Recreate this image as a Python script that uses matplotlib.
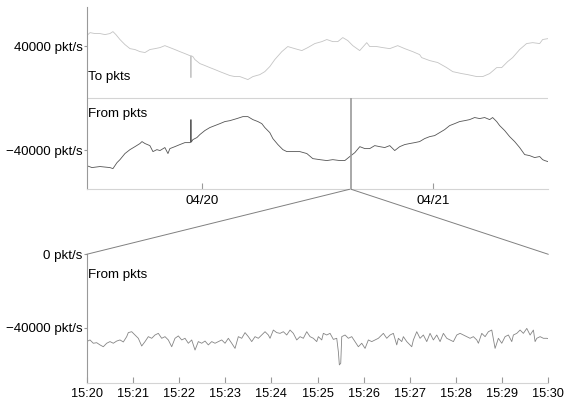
"""
Packet rate overview with a 10 minute zoom window
"""

import matplotlib
matplotlib.use("Agg")
import matplotlib.pyplot as plt
import matplotlib.dates as mdates
from matplotlib.patches import ConnectionPatch
from matplotlib.ticker import FuncFormatter, FixedLocator
from datetime import datetime, timedelta

plt.rcParams['font.family'] = ['Liberation Sans', 'DejaVu Sans']
plt.rcParams['font.size'] = 9.6

# Overview: hours after 04/19 12:00, rates in pkt/s
START = datetime(2009, 4, 19, 12, 0)

to_hours = [0.0, 0.35, 0.86, 1.38, 1.90, 2.42, 2.73, 3.04, 3.46, 3.98, 4.50, 5.02,
            5.54, 6.06, 6.57, 7.10, 7.62, 8.13, 8.65, 9.17, 9.69, 10.21, 10.73,
            10.80, 10.84, 10.88, 11.04, 11.25, 11.77, 12.29, 12.81, 13.33, 13.85,
            14.37, 14.89, 15.41, 15.93, 16.76, 17.28, 18.00, 18.52, 19.04, 19.56,
            20.29, 20.91, 21.64, 22.37, 22.99, 23.72, 24.45, 24.97, 25.59, 26.11,
            26.63, 27.15, 27.67, 28.39, 29.12, 29.43, 30.16, 30.78, 31.51, 32.34,
            33.07, 33.90, 34.62, 34.83, 35.67, 36.50, 37.43, 38.06, 39.00, 39.62,
            40.56, 41.18, 41.90, 42.63, 43.15, 43.77, 44.29, 45.02, 45.74, 46.37,
            47.10, 47.41, 47.96]
to_pkts = [48200, 50500, 49800, 49800, 49000, 49800, 51300, 49000, 45200, 41300,
           38200, 37500, 35900, 35200, 37500, 38200, 39000, 40500, 39000, 37500,
           35900, 34400, 32800, 32800, 15900, 32700, 32100, 29800, 26700, 25200,
           23600, 22100, 20500, 19000, 17500, 16700, 16700, 14400, 16700, 18200,
           20500, 24400, 29800, 35900, 39800, 38200, 36700, 39000, 42100, 43600,
           45200, 43600, 43600, 46700, 44400, 40500, 36700, 42800, 39800, 39800,
           39000, 38200, 40500, 38200, 35900, 33600, 31300, 29000, 27500, 23600,
           20500, 19000, 18200, 16700, 16700, 19000, 23600, 23600, 28200, 31300,
           37500, 42100, 42800, 42100, 45200, 45900]

from_hours = [0.0, 0.55, 1.38, 2.42, 2.73, 3.15, 3.46, 3.98, 4.50, 5.02, 5.54, 5.75,
              6.06, 6.57, 6.89, 7.30, 7.62, 8.13, 8.45, 8.65, 9.17, 9.69, 10.21,
              10.73, 10.80, 10.84, 10.88, 11.04, 11.46, 11.77, 12.29, 12.81, 13.33,
              13.85, 14.37, 14.89, 15.62, 16.24, 16.76, 17.28, 17.80, 18.21, 18.52,
              19.04, 19.36, 19.88, 20.40, 20.81, 21.43, 22.16, 22.89, 23.51, 24.24,
              24.97, 25.59, 26.32, 26.84, 27.36, 27.88, 28.40, 28.92, 29.43, 29.95,
              30.47, 30.99, 31.51, 32.03, 32.55, 33.07, 33.59, 34.11, 34.62, 35.14,
              35.66, 36.18, 36.70, 37.22, 37.74, 38.26, 38.78, 39.30, 39.82, 40.34,
              40.86, 41.38, 41.90, 42.21, 42.63, 42.94, 43.46, 43.98, 44.50, 45.02,
              45.54, 46.06, 46.58, 47.10, 47.41, 47.62, 47.96]
from_pkts = [-51800, -53300, -52500, -53300, -54100, -49500, -47200, -42500, -39500,
             -37200, -34800, -33300, -34800, -36400, -41000, -39500, -40200, -37900,
             -42500, -38700, -37200, -35600, -34100, -34100, -33900, -16400, -33700,
             -31800, -30200, -27900, -24800, -22500, -21000, -19500, -17900, -17200,
             -15600, -14100, -14100, -16400, -17900, -19500, -22500, -26400, -31000,
             -35600, -39500, -41000, -41000, -41000, -42500, -46400, -47200, -47900,
             -47200, -47900, -47900, -44800, -41800, -37200, -38700, -38700, -36400,
             -37200, -37900, -36400, -40200, -37200, -35600, -34800, -34100, -33300,
             -31000, -29500, -28700, -26400, -24100, -21000, -19500, -17900, -17200,
             -16400, -14800, -15600, -14800, -16400, -14800, -17900, -21000, -24800,
             -29500, -33300, -37900, -43300, -44100, -45600, -44800, -47200, -47900,
             -48700]

# Zoom window: seconds after 04/20 15:20:00
ZOOM_START = datetime(2009, 4, 20, 15, 20)
ZOOM_END = datetime(2009, 4, 20, 15, 30)

zoom_secs = [0, 4.3, 8.6, 13.0, 17.3, 21.6, 26.0, 30.3, 34.6, 39.0, 43.3, 47.6, 52.0,
             54.1, 58.5, 62.8, 67.1, 71.5, 75.8, 80.1, 84.5, 88.8, 93.1, 97.5, 101.8,
             106.1, 110.5, 114.8, 119.1, 123.5, 127.8, 132.1, 136.5, 140.8, 145.1,
             149.5, 153.8, 158.1, 162.5, 166.8, 171.1, 175.5, 179.8, 184.1, 188.5,
             192.8, 197.1, 201.5, 205.8, 210.1, 214.5, 218.8, 223.1, 227.5, 231.8,
             236.1, 238.3, 242.6, 247.0, 251.3, 255.6, 260.0, 264.3, 268.6, 273.0,
             277.3, 281.6, 286.0, 290.3, 294.6, 299.0, 301.1, 305.5, 307.6, 312.0,
             316.3, 320.6, 325.0, 327.1, 328.4, 330.2, 331.5, 335.8, 340.1, 344.5,
             348.8, 353.1, 357.5, 361.8, 366.1, 370.5, 374.8, 379.1, 385.6, 390.0,
             394.3, 398.6, 403.0, 405.1, 409.5, 411.6, 416.0, 422.5, 424.6, 429.0,
             433.3, 437.6, 442.0, 446.3, 450.6, 455.0, 459.3, 463.6, 468.0, 472.3,
             476.6, 481.0, 485.3, 489.6, 494.0, 498.3, 502.6, 507.0, 509.1, 513.5,
             517.8, 522.1, 526.5, 530.8, 535.1, 539.5, 543.8, 548.1, 552.5, 554.6,
             559.0, 563.3, 567.6, 572.0, 576.3, 580.6, 582.8, 585.0, 589.3, 593.6,
             598.0, 600.0]
zoom_pkts = [-47600, -46700, -48500, -48200, -49400, -50400, -48500, -47600, -48500,
             -47300, -46700, -47800, -44900, -42700, -42200, -44000, -45800, -50000,
             -47600, -44900, -45800, -44000, -43100, -45800, -44900, -46700, -50400,
             -45800, -44500, -46700, -45800, -48500, -46700, -52200, -47600, -48500,
             -47300, -49400, -47600, -48500, -47600, -46700, -48500, -45800, -48500,
             -51300, -44900, -45800, -42700, -44900, -47600, -44900, -45800, -44000,
             -42200, -44000, -45800, -41300, -42700, -43100, -42200, -44000, -41300,
             -43100, -46700, -44900, -45800, -42200, -44900, -45800, -47600, -44900,
             -46700, -43100, -44000, -43100, -46400, -45800, -53100, -60300, -59400,
             -44900, -44000, -45800, -44900, -47600, -50400, -48500, -51300, -46700,
             -47600, -46700, -45800, -43100, -45800, -44000, -43100, -49400, -45800,
             -47600, -44900, -47600, -50400, -46700, -42200, -45800, -44000, -47600,
             -43100, -46700, -44000, -47600, -43100, -45800, -46700, -47600, -44000,
             -43100, -44000, -44900, -45800, -44900, -46700, -48500, -43100, -44900,
             -42200, -41300, -51300, -45800, -48500, -44900, -44000, -47600, -44000,
             -43100, -41300, -43100, -40400, -44000, -41300, -47600, -45800, -44900,
             -45800, -45800, -46000]

SPINE = '#999999'
LIGHT = '#d4d4d4'


def rate_label(v, pos=None):
    v = int(round(v))
    return f"\u2212{abs(v)} pkt/s" if v < 0 else f"{v} pkt/s"


def style_axes(ax):
    for side in ('top', 'right'):
        ax.spines[side].set_visible(False)
    ax.spines['left'].set_color(SPINE)
    ax.spines['left'].set_linewidth(0.8)
    ax.spines['bottom'].set_color(LIGHT)
    ax.spines['bottom'].set_linewidth(0.8)
    ax.tick_params(axis='y', direction='out', length=2, color=SPINE, pad=1)
    ax.tick_params(axis='x', direction='in', length=4, color=SPINE, pad=4)
    ax.yaxis.set_major_formatter(FuncFormatter(rate_label))


fig = plt.figure(figsize=(5.64, 4.03), dpi=100)
ax_top = fig.add_axes([0.1537, 0.5303, 0.8185, 0.4516])
ax_bot = fig.add_axes([0.1537, 0.0504, 0.8185, 0.3186])

# overview
to_t = [START + timedelta(hours=h) for h in to_hours]
from_t = [START + timedelta(hours=h) for h in from_hours]
ax_top.axhline(0, color=LIGHT, lw=0.8, zorder=1)
ax_top.plot(to_t, to_pkts, color='#c4c4c4', lw=0.6)
ax_top.plot(from_t, from_pkts, color='#555555', lw=0.6)
ax_top.set_xlim(START, START + timedelta(hours=48))
ax_top.set_ylim(-70000, 70000)
style_axes(ax_top)
ax_top.yaxis.set_major_locator(FixedLocator([-40000, 40000]))
ax_top.xaxis.set_major_locator(mdates.DayLocator())
ax_top.xaxis.set_major_formatter(mdates.DateFormatter('%m/%d'))
ax_top.text(0.003, 0.60, "To pkts", transform=ax_top.transAxes, va='baseline')
ax_top.text(0.003, 0.397, "From pkts", transform=ax_top.transAxes, va='baseline')

# zoom window marker
for edge in (ZOOM_START, ZOOM_END):
    ax_top.axvline(edge, ymin=0, ymax=0.5, color='#9a9a9a', lw=0.6)

# zoomed panel
zoom_t = [ZOOM_START + timedelta(seconds=s) for s in zoom_secs]
ax_bot.plot(zoom_t, zoom_pkts, color='#858585', lw=0.6)
ax_bot.set_xlim(ZOOM_START, ZOOM_END)
ax_bot.set_ylim(-70000, 0)
style_axes(ax_bot)
ax_bot.yaxis.set_major_locator(FixedLocator([-40000, 0]))
ax_bot.xaxis.set_major_locator(mdates.MinuteLocator())
ax_bot.xaxis.set_major_formatter(mdates.DateFormatter('%H:%M'))
ax_bot.tick_params(axis='x', labelsize=9.2)
ax_bot.text(0.003, 0.819, "From pkts", transform=ax_bot.transAxes, va='baseline')

# connector lines between the window and the zoomed panel
for x_top, x_bot in ((ZOOM_START, 0), (ZOOM_END, 1)):
    con = ConnectionPatch(xyA=(mdates.date2num(x_top), -70000), coordsA=ax_top.transData,
                          xyB=(x_bot, 1), coordsB=ax_bot.transAxes,
                          color='#808080', lw=0.7)
    fig.add_artist(con)

fig.savefig("out.png", dpi=100)
